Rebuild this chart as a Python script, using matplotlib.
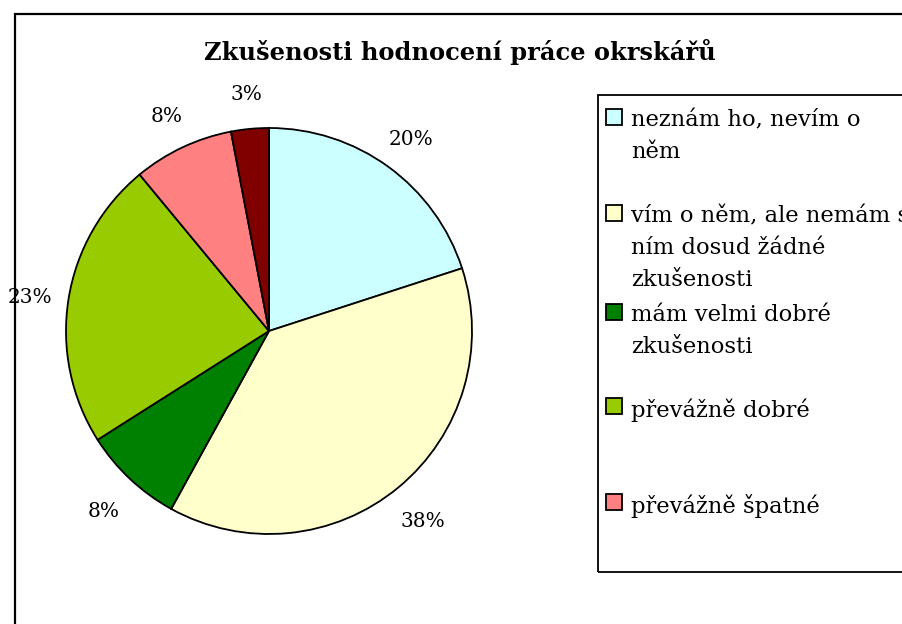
"""
Pie chart: Zkusenosti hodnoceni prace okrskaru
"""
import matplotlib
matplotlib.use("Agg")
import matplotlib.pyplot as plt
from matplotlib.patches import Rectangle

# data (percent)
labels = ['neznám ho, nevím o\nněm',
          'vím o něm, ale nemám s\nním dosud žádné\nzkušenosti',
          'mám velmi dobré\nzkušenosti',
          'převážně dobré',
          'převážně špatné',
          'velmi špatné']
values = [20, 38, 8, 23, 8, 3]
colors = ['#CCFFFF', '#FFFFCC', '#008000', '#99CC00', '#FF8080', '#800000']
title = 'Zkušenosti hodnocení práce okrskářů'

plt.rcParams['font.family'] = ['DejaVu Serif']

W, H = 903, 624
fig = plt.figure(figsize=(W / 100, H / 100), dpi=100)

# outer chart frame (runs off the right and bottom edges)
fig.patches.append(Rectangle((15 / W, -0.05), 1.0, 1 - 14 / H + 0.05,
                             transform=fig.transFigure, fill=False,
                             edgecolor='black', linewidth=1.6))

# pie axes: centre (269, 331) px, radius 203 px
cx, cy, r = 269, 331, 203
ax = fig.add_axes([(cx - r) / W, (H - cy - r) / H, 2 * r / W, 2 * r / H])
wedges, texts, autotexts = ax.pie(values, colors=colors, startangle=90,
                                  counterclock=False, autopct='%1.0f%%',
                                  pctdistance=1.19,
                                  wedgeprops=dict(edgecolor='black', linewidth=1.3))
for t in autotexts:
    t.set_fontsize(14.5)
    t.set_va('center_baseline')
    x, y = t.get_position()
    t.set_position((x, y - 0.01))
ax.set_xlim(-1, 1)
ax.set_ylim(-1, 1)
ax.set_aspect('equal')

fig.text(460 / W, 1 - 52 / H, title, ha='center', va='center',
         fontsize=17.4, fontweight='bold')

# legend box (Excel style, uneven spacing, clipped at right edge)
fig.patches.append(Rectangle((598 / W, 1 - 572 / H), 0.5, (572 - 95) / H,
                             transform=fig.transFigure, fill=False,
                             edgecolor='black', linewidth=1.3))
ys = [117, 213, 312, 406, 502]
for lab, col, y in zip(labels, colors, ys):
    fig.patches.append(Rectangle((606 / W, 1 - (y + 8) / H), 16 / W, 16 / H,
                                 transform=fig.transFigure, facecolor=col,
                                 edgecolor='black', linewidth=1.3))
    fig.text(631 / W, 1 - (y - 8) / H, lab, ha='left', va='top',
             fontsize=16.3, linespacing=1.6)

plt.savefig('out.png', dpi=100)
